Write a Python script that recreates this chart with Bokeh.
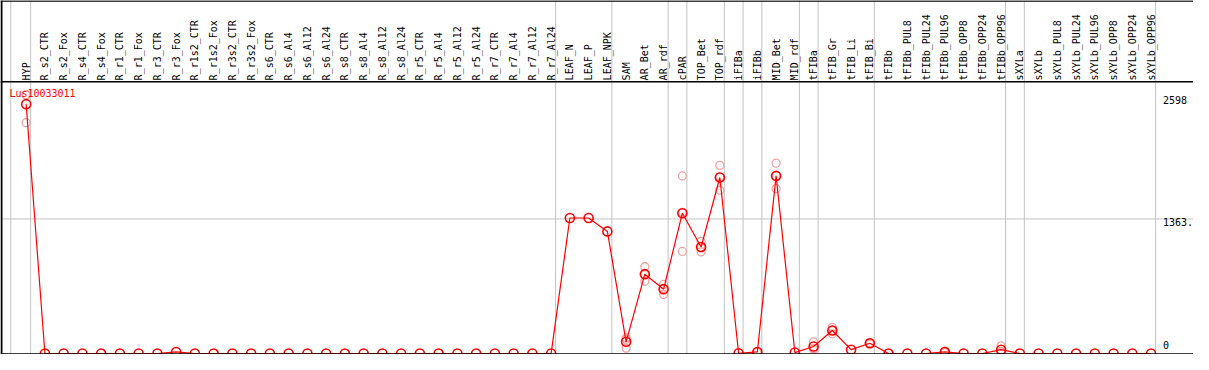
import numpy as np
from bokeh.plotting import figure
from bokeh.models import Range1d, Span, ColumnDataSource
from bokeh.core.properties import value
from bokeh.embed import file_html
from bokeh.resources import INLINE

# ---------------- data ----------------
gene = "Lus10033011"

categories = [
    "HYP",
    "R_s2_CTR", "R_s2_Fox", "R_s4_CTR", "R_s4_Fox", "R_r1_CTR", "R_r1_Fox",
    "R_r3_CTR", "R_r3_Fox", "R_r1s2_CTR", "R_r1s2_Fox", "R_r3s2_CTR", "R_r3s2_Fox",
    "R_s6_CTR", "R_s6_Al4", "R_s6_Al12", "R_s6_Al24",
    "R_s8_CTR", "R_s8_Al4", "R_s8_Al12", "R_s8_Al24",
    "R_r5_CTR", "R_r5_Al4", "R_r5_Al12", "R_r5_Al24",
    "R_r7_CTR", "R_r7_Al4", "R_r7_Al12", "R_r7_Al24",
    "LEAF_N", "LEAF_P", "LEAF_NPK",
    "SAM", "AR_Bet", "AR_rdf",
    "cPAR", "TOP_Bet", "TOP_rdf",
    "iFIBa", "iFIBb",
    "MID_Bet", "MID_rdf",
    "tFIBa", "tFIB_Gr", "tFIB_Li", "tFIB_Bi",
    "tFIBb", "tFIBb_PUL8", "tFIBb_PUL24", "tFIBb_PUL96", "tFIBb_OPP8", "tFIBb_OPP24", "tFIBb_OPP96",
    "sXYLa",
    "sXYLb", "sXYLb_PUL8", "sXYLb_PUL24", "sXYLb_PUL96", "sXYLb_OPP8", "sXYLb_OPP24", "sXYLb_OPP96",
]

mean_values = [
    2526,
    0, 0, 0, 0, 0, 0, 0, 16, 0, 0, 0, 0,
    0, 0, 0, 0, 0, 0, 0, 0, 0, 0, 0, 0, 0, 0, 0, 0,
    1373, 1373, 1237,
    119, 804, 652,
    1421, 1079, 1783,
    3, 16,
    1799, 10,
    71, 233, 39, 104,
    0, 0, 0, 16, 0, 0, 39,
    0,
    0, 0, 0, 0, 0, 0, 0,
]

rep_names = (
    ["HYP"] * 3 + ["SAM"] * 3 + ["AR_Bet"] * 3 + ["AR_rdf"] * 3 + ["cPAR"] * 3
    + ["TOP_Bet"] * 3 + ["TOP_rdf"] * 3 + ["iFIBb"] * 3 + ["MID_Bet"] * 3
    + ["tFIBa"] * 3 + ["tFIB_Gr"] * 3 + ["tFIB_Bi"] * 3
    + ["tFIBb_PUL96"] * 3 + ["tFIBb_OPP96"] * 3
)
rep_values = [
    2623, 2338, 2617,
    158, 55, 144,
    879, 733, 800,
    700, 598, 658,
    1799, 1034, 1430,
    1137, 1030, 1070,
    1906, 1654, 1789,
    20, 14, 14,
    1928, 1670, 1799,
    119, 50, 45,
    265, 200, 234,
    110, 98, 104,
    25, 12, 11,
    78, 20, 19,
]

group_sizes = [1, 28, 3, 3, 1, 2, 1, 1, 2, 1, 3, 7, 1, 7]

tick_values = [0, 1363, 2598]
tick_labels = ["0", "1363.", "2598"]

# ---------------- layout helpers ----------------
W, H = 1193, 354
REF_W, REF_H = 1209, 370
X0_REF, STEP_REF = 26.0, 19.0
ZERO_REF, PPU = 369.0, 0.1032


def xr(px):
    return (px - X0_REF) / STEP_REF


def yr(py):
    return (ZERO_REF - py) / PPU


p = figure(
    width=W, height=H,
    x_range=Range1d(xr(0), xr(REF_W)),
    y_range=Range1d(yr(REF_H), yr(0)),
    output_backend="svg", toolbar_location=None,
    min_border=0, min_border_left=0, min_border_right=0,
    min_border_top=0, min_border_bottom=0,
    x_axis_location=None, y_axis_location=None,
    outline_line_color=None,
    background_fill_color="white", border_fill_color="white",
)
p.grid.visible = False

GRAY = "#c3c3c3"
RED = "#ff0000"
FADE = "#f2a0a0"
FONT = value("DejaVu Sans Mono")

# group separators
bounds = [-1] + list(np.cumsum(group_sizes) - 1)
for b in bounds:
    off = 0.18 if b < 0 else 0.24
    p.add_layout(Span(location=b + off, dimension="height", line_color=GRAY,
                      line_width=1, level="underlay"))

# middle horizontal grid line
p.add_layout(Span(location=tick_values[1], dimension="width", line_color=GRAY,
                  line_width=1, level="underlay"))

# black frame lines
p.add_layout(Span(location=xr(1), dimension="height", line_color="black", line_width=2))
p.add_layout(Span(location=yr(0.5), dimension="width", line_color="black", line_width=1.5))
p.add_layout(Span(location=yr(85), dimension="width", line_color="black", line_width=1.5))
p.add_layout(Span(location=yr(369.6), dimension="width", line_color="black", line_width=1.5))

idx = {c: i for i, c in enumerate(categories)}
xs = list(range(len(categories)))

# replicates
rep_src = ColumnDataSource(dict(x=[idx[n] for n in rep_names], y=rep_values))
p.scatter("x", "y", source=rep_src, marker="circle", size=8, fill_color=None,
          line_color=FADE, line_width=1.3)

# mean line + markers
src = ColumnDataSource(dict(x=xs, y=mean_values))
p.line("x", "y", source=src, line_color=RED, line_width=1.2)
p.scatter("x", "y", source=src, marker="circle", size=9, fill_color="white",
          fill_alpha=0.0, line_color=RED, line_width=1.6)

# header labels
hdr = ColumnDataSource(dict(x=xs, y=[yr(83.5)] * len(categories), t=categories))
p.text("x", "y", text="t", source=hdr, angle=np.pi / 2, text_align="left",
       text_baseline="middle", text_font=FONT, text_font_size="10px",
       text_color="black")

# gene name
p.text(x=[xr(9)], y=[yr(97)], text=[gene], text_align="left", text_baseline="middle",
       text_font=FONT, text_font_size="10px", text_color=RED)

# right-hand value labels
lab_y = [max(v, yr(357)) for v in tick_values]
p.text(x=[xr(1178)] * 3, y=lab_y, text=tick_labels, text_align="left",
       text_baseline="top", text_font=FONT, text_font_size="10px",
       text_color="black", y_offset=-1)

open("out.html", "w").write(file_html(p, INLINE))
